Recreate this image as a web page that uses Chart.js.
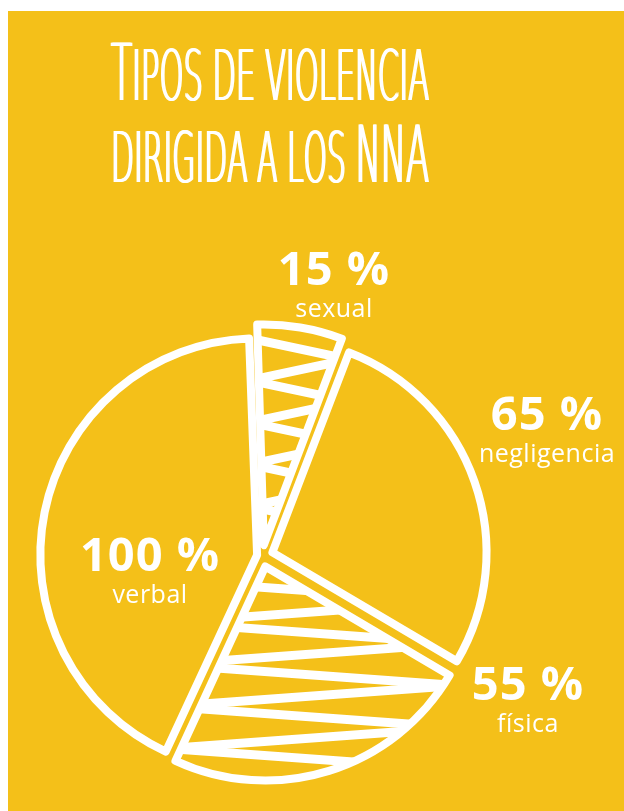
<!DOCTYPE html>
<html>
<head>
<meta charset="utf-8">
<script src="https://cdn.jsdelivr.net/npm/chart.js@4.4.1/dist/chart.umd.min.js"></script>
<style>
  html, body { margin: 0; padding: 0; background: #ffffff; }
  #wrap { position: absolute; left: 0; top: 0; width: 624px; height: 811px; }
</style>
</head>
<body>
<div id="wrap"><canvas id="c" width="624" height="811"></canvas></div>
<script>
// ---------- DATA ----------
const titleLines = ['Tipos de violencia', 'dirigida a los NNA'];
const categories = ['sexual', 'negligencia', 'física', 'verbal'];
const percentages = [15, 65, 55, 100];

// ---------- STYLE ----------
const YELLOW = '#F4C019';
const WHITE = '#FFFFFF';
const hatchedCategories = ['sexual', 'física'];
const labelAnchor = {           // text anchors (centre x, baseline of value)
  'sexual':      [334, 285],
  'negligencia': [547, 430],
  'física':      [528, 700],
  'verbal':      [150, 571]
};

const backgroundPlugin = {
  id: 'bgPanel',
  beforeDraw(chart) {
    const ctx = chart.ctx;
    ctx.save();
    ctx.fillStyle = YELLOW;
    ctx.fillRect(8, 11, 616, 800);
    ctx.restore();
  }
};

const titlePlugin = {
  id: 'smallCapsTitle',
  afterDraw(chart) {
    const ctx = chart.ctx;
    const left = 110, width = 318;
    const baselines = [100, 182];
    const FONT = '200 {s}px "DejaVu Sans"';
    ctx.save();
    ctx.fillStyle = WHITE;
    ctx.textBaseline = 'alphabetic';
    titleLines.forEach((line, li) => {
      const chars = line.split('').map(ch => {
        const big = ch !== ' ' && ch === ch.toUpperCase() && ch !== ch.toLowerCase();
        return { ch: ch.toUpperCase(), size: big ? 78 : 69 };
      });
      let total = 0;
      chars.forEach(c => {
        ctx.font = FONT.replace('{s}', c.size);
        c.w = ctx.measureText(c.ch).width;
        total += c.w;
      });
      const sx = width / total;
      [0, 1, 2].forEach(dx => {
        ctx.save();
        ctx.translate(left + dx, baselines[li]);
        ctx.scale(sx, 1);
        let x = 0;
        chars.forEach(c => {
          ctx.font = FONT.replace('{s}', c.size);
          ctx.fillText(c.ch, x, 0);
          x += c.w;
        });
        ctx.restore();
      });
    });
    ctx.restore();
  }
};

const hatchPlugin = {
  id: 'zigzagHatch',
  afterDatasetsDraw(chart) {
    const ctx = chart.ctx;
    const meta = chart.getDatasetMeta(0);
    meta.data.forEach((arc, i) => {
      if (!hatchedCategories.includes(chart.data.labels[i])) return;
      const p = arc.getProps(['x', 'y', 'startAngle', 'endAngle', 'outerRadius'], true);
      const off = (arc.options.offset || 0) / 4;
      const mid = (p.startAngle + p.endAngle) / 2;
      const circ = p.endAngle - p.startAngle;
      const rOff = off * (1 - Math.sin(Math.min(Math.PI, circ)));
      const R = p.outerRadius + rOff;
      ctx.save();
      ctx.translate(Math.cos(mid) * off, Math.sin(mid) * off);
      ctx.beginPath();
      ctx.moveTo(p.x, p.y);
      ctx.arc(p.x, p.y, R, p.startAngle, p.endAngle);
      ctx.closePath();
      ctx.clip();
      let minX = p.x, maxX = p.x, minY = p.y, maxY = p.y;
      for (let k = 0; k <= 24; k++) {
        const a = p.startAngle + circ * k / 24;
        const px = p.x + Math.cos(a) * R, py = p.y + Math.sin(a) * R;
        minX = Math.min(minX, px); maxX = Math.max(maxX, px);
        minY = Math.min(minY, py); maxY = Math.max(maxY, py);
      }
      ctx.strokeStyle = WHITE;
      ctx.lineWidth = 9;
      ctx.lineJoin = 'round';
      ctx.lineCap = 'round';
      ctx.beginPath();
      let y = minY + 14, side = 0;
      ctx.moveTo(minX - 6, y);
      while (y < maxY + 20) {
        y += 21;
        side = 1 - side;
        ctx.lineTo(side ? maxX + 6 : minX - 6, y);
      }
      ctx.stroke();
      ctx.restore();
    });
  }
};

const labelPlugin = {
  id: 'sliceLabels',
  afterDraw(chart) {
    const ctx = chart.ctx;
    ctx.save();
    ctx.fillStyle = WHITE;
    ctx.textAlign = 'center';
    ctx.textBaseline = 'alphabetic';
    chart.data.labels.forEach((name, i) => {
      const [cx, by] = labelAnchor[name];
      const v = chart.data.datasets[0].data[i];
      ctx.font = 'bold 47px "Open Sans"';
      ctx.letterSpacing = '1px';
      ctx.fillText(v + ' %', cx, by);
      ctx.font = '25px "Open Sans"';
      ctx.letterSpacing = '0.5px';
      ctx.fillText(name, cx, by + 32);
    });
    ctx.restore();
  }
};

new Chart(document.getElementById('c'), {
  type: 'pie',
  data: {
    labels: categories,
    datasets: [{
      data: percentages,
      backgroundColor: YELLOW,
      borderColor: WHITE,
      borderWidth: 8,
      borderJoinStyle: 'round',
      offset: [44, 44, 44, 20],
      hoverOffset: 0,
      radius: 214,
      rotation: -2
    }]
  },
  options: {
    responsive: false,
    animation: false,
    events: [],
    layout: { padding: { left: 40, right: 140, top: 330, bottom: 29 } },
    plugins: {
      legend: { display: false },
      tooltip: { enabled: false },
      title: { display: false }
    }
  },
  plugins: [backgroundPlugin, hatchPlugin, labelPlugin, titlePlugin]
});
</script>
</body>
</html>
